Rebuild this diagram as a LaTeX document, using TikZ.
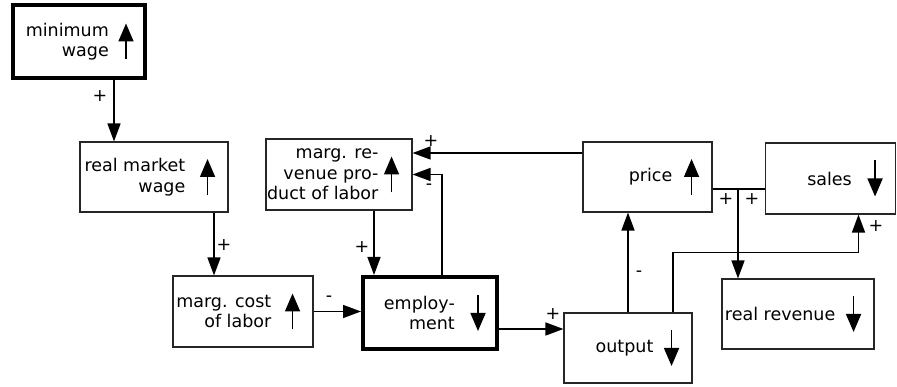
\documentclass[tikz,border=0pt]{standalone}
\usepackage{fontspec}
\setmainfont{DejaVu Sans}
\usetikzlibrary{arrows.meta}

% small up/down arrow at the right side of a box
\newcommand{\trendup}[1]{\draw[trend] ([xshift=-21pt,yshift=-18pt]#1.east) -- ++(0,36);}
\newcommand{\trenddown}[1]{\draw[trend] ([xshift=-21pt,yshift=18pt]#1.east) -- ++(0,-36);}

\begin{document}
\begin{tikzpicture}[x=1pt,y=1pt,
    box/.style={draw=black!85, line width=1.1pt, inner sep=0pt},
    keybox/.style={box, draw=black, line width=4pt},
    txt/.style={anchor=east, align=right, inner sep=0pt,
      font=\fontsize{17.5}{20.5}\selectfont},
    sign/.style={inner sep=0pt, font=\fontsize{17.5}{20}\selectfont},
    conn/.style={line width=1.5pt, -{Triangle[length=18pt,width=13pt]}},
    trend/.style={line width=1.6pt, -{Triangle[length=18pt,width=15pt]}}]
        \useasboundingbox (0,0) rectangle (897,387);
        % Boxes
        \node[keybox, minimum width=132, minimum height=73] (minwage) at (79,345.5) {};
        \node[box, minimum width=148, minimum height=70] (realwage) at (154,210) {};
        \node[box, minimum width=146, minimum height=71] (mrp) at (339,212.5) {};
        \node[box, minimum width=140, minimum height=71] (mcl) at (243,75.5) {};
        \node[keybox, minimum width=134, minimum height=72] (employ) at (430,74) {};
        \node[box, minimum width=128, minimum height=70] (output) at (628,39) {};
        \node[box, minimum width=129, minimum height=70] (price) at (647.5,210) {};
        \node[box, minimum width=130, minimum height=71] (sales) at (830.5,208.5) {};
        \node[box, minimum width=152, minimum height=70] (revenue) at (798,73) {};
        % Box texts
        \node[txt] (minwage-t) at ([xshift=-38pt]minwage.east) {minimum\\wage};
        \node[txt] (realwage-t) at ([xshift=-43pt]realwage.east) {real market\\wage};
        \node[txt] (mrp-t) at ([xshift=-34pt]mrp.east) {marg. re-\\venue pro-\\duct of labor};
        \node[txt] (mcl-t) at ([xshift=-42pt]mcl.east) {marg. cost\\of labor};
        \node[txt] (employ-t) at ([xshift=-44pt]employ.east) {employ-\\ment};
        \node[txt] (output-t) at ([xshift=-39pt]output.east) {output};
        \node[txt] (price-t) at ([xshift=-40pt]price.east) {price};
        \node[txt] (sales-t) at ([xshift=-44pt]sales.east) {sales};
        \node[txt] (revenue-t) at ([xshift=-39pt]revenue.east) {real revenue};
        % Trend arrows
        \trendup{minwage}
        \trendup{realwage}
        \trendup{mrp}
        \trendup{mcl}
        \trenddown{employ}
        \trenddown{output}
        \trendup{price}
        \trenddown{sales}
        \trenddown{revenue}
        % Connectors
        \draw[conn] ([xshift=35pt]minwage.south) -- ([xshift=35pt]minwage.south |- realwage.north);
        \draw[conn] ([xshift=60pt]realwage.south) -- ([xshift=60pt]realwage.south |- mcl.north);
        \draw[conn] ([xshift=35pt]mrp.south) -- ([xshift=35pt]mrp.south |- employ.north);
        \draw[conn] (mcl.east) -- (mcl.east -| employ.west);
        \draw[conn] ([xshift=12pt]employ.north) |- (mrp.east);
        \draw[conn] ([yshift=24pt]price.west) -- ([yshift=24pt]price.west -| mrp.east);
        \draw[conn] ([yshift=-16pt]employ.east) -- ([yshift=-16pt]employ.east -| output.west);
        \draw[conn] (output.north) -- (output.north |- price.south);
        \draw[conn] ([xshift=45pt]output.north) -- ++(0,60) -| ([xshift=28pt]sales.south);
        \coordinate (fork) at (738,198);
        \draw[line width=1.5pt] (price.east |- fork) -- (sales.west |- fork);
        \draw[conn] (fork) -- (fork |- revenue.north);
        % Signs
        \node[sign] (s1) at (100,291) {+};
        \node[sign] (s2) at (224,142) {+};
        \node[sign] (s3) at (362,140) {+};
        \node[sign] (s4) at (329,88) {-};
        \node[sign] (s5) at (429,200) {-};
        \node[sign] (s6) at (431,246) {+};
        \node[sign] (s7) at (553,73) {+};
        \node[sign] (s8) at (639,113) {-};
        \node[sign] (s9) at (876,161) {+};
        \node[sign] (s10) at (726,188) {+};
        \node[sign] (s11) at (752,188) {+};
      \end{tikzpicture}
\end{document}
